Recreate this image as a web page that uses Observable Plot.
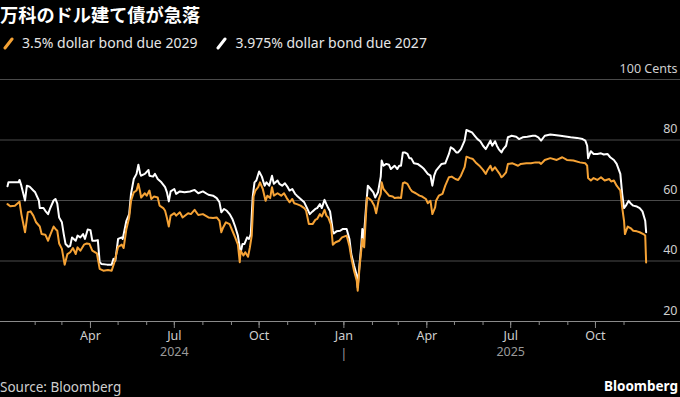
<!DOCTYPE html>
<html>
<head>
<meta charset="utf-8">
<script src="https://cdn.jsdelivr.net/npm/d3@7"></script>
<script src="https://cdn.jsdelivr.net/npm/@observablehq/plot@0.6"></script>
<style>
  html, body { margin:0; padding:0; background:#000; width:680px; height:397px; overflow:hidden; font-family:"Noto Sans", sans-serif; }
  #title { position:absolute; left:0; top:1px; font-family:"Noto Sans CJK JP", sans-serif; font-weight:bold; font-size:18.2px; color:#fff; white-space:nowrap; }
  #legend { position:absolute; left:0; top:33px; font-size:14px; color:#e6e6e6; white-space:nowrap; display:flex; align-items:center; }
  #legend .item { display:flex; align-items:center; margin-right:16px; }
  #legend svg { margin-right:6px; }
  #chart { position:absolute; left:0; top:56px; }
  #source { position:absolute; left:0; top:378px; font-size:13.5px; color:#cfcfcf; }
  #brand { position:absolute; right:2px; top:377px; font-size:13.5px; font-weight:bold; color:#fff; }
</style>
</head>
<body>
<div id="title"></div>
<div id="legend"></div>
<div id="chart"></div>
<div id="source"></div>
<div id="brand">Bloomberg</div>
<script>
const titleText = "万科のドル建て債が急落";
const seriesNames = ["3.5% dollar bond due 2029", "3.975% dollar bond due 2027"];
const seriesColors = ["#f5a235", "#ffffff"];
const sourceText = "Source: Bloomberg";

// 3.5% dollar bond due 2029 (orange)
const dates2029 = ["2024-01-02","2024-01-05","2024-01-10","2024-01-15","2024-01-17","2024-01-21","2024-01-24","2024-01-27","2024-01-30","2024-02-02","2024-02-06","2024-02-08","2024-02-12","2024-02-15","2024-02-17","2024-02-21","2024-02-23","2024-02-25","2024-02-27","2024-03-01","2024-03-04","2024-03-07","2024-03-10","2024-03-13","2024-03-16","2024-03-18","2024-03-21","2024-03-25","2024-03-28","2024-03-31","2024-04-03","2024-04-08","2024-04-11","2024-04-15","2024-04-20","2024-04-24","2024-04-27","2024-05-01","2024-05-05","2024-05-07","2024-05-10","2024-05-13","2024-05-15","2024-05-18","2024-05-21","2024-05-23","2024-05-25","2024-05-26","2024-05-30","2024-06-01","2024-06-04","2024-06-06","2024-06-09","2024-06-13","2024-06-15","2024-06-19","2024-06-21","2024-06-23","2024-06-25","2024-06-27","2024-07-01","2024-07-03","2024-07-07","2024-07-10","2024-07-16","2024-07-19","2024-07-23","2024-07-27","2024-08-01","2024-08-07","2024-08-12","2024-08-16","2024-08-19","2024-08-21","2024-08-23","2024-08-26","2024-08-30","2024-09-02","2024-09-05","2024-09-08","2024-09-10","2024-09-11","2024-09-14","2024-09-16","2024-09-19","2024-09-21","2024-09-23","2024-09-25","2024-09-27","2024-09-30","2024-10-02","2024-10-05","2024-10-08","2024-10-10","2024-10-13","2024-10-15","2024-10-17","2024-10-21","2024-10-25","2024-10-28","2024-10-31","2024-11-03","2024-11-06","2024-11-08","2024-11-11","2024-11-15","2024-11-19","2024-11-21","2024-11-24","2024-11-28","2024-12-01","2024-12-03","2024-12-06","2024-12-08","2024-12-11","2024-12-13","2024-12-15","2024-12-18","2024-12-20","2024-12-23","2024-12-27","2024-12-30","2025-01-04","2025-01-07","2025-01-09","2025-01-12","2025-01-15","2025-01-16","2025-01-18","2025-01-20","2025-01-21","2025-01-23","2025-01-26","2025-01-29","2025-01-31","2025-02-03","2025-02-05","2025-02-08","2025-02-10","2025-02-11","2025-02-13","2025-02-16","2025-02-19","2025-02-23","2025-02-25","2025-03-01","2025-03-04","2025-03-06","2025-03-08","2025-03-11","2025-03-14","2025-03-16","2025-03-20","2025-03-24","2025-03-27","2025-03-31","2025-04-02","2025-04-05","2025-04-07","2025-04-10","2025-04-11","2025-04-14","2025-04-18","2025-04-21","2025-04-25","2025-04-28","2025-05-02","2025-05-05","2025-05-08","2025-05-12","2025-05-14","2025-05-18","2025-05-21","2025-05-24","2025-05-28","2025-06-01","2025-06-04","2025-06-06","2025-06-09","2025-06-11","2025-06-14","2025-06-16","2025-06-19","2025-06-21","2025-06-23","2025-06-26","2025-06-28","2025-07-03","2025-07-09","2025-07-12","2025-07-18","2025-07-23","2025-07-28","2025-08-01","2025-08-03","2025-08-07","2025-08-13","2025-08-20","2025-08-26","2025-08-31","2025-09-07","2025-09-14","2025-09-20","2025-09-22","2025-09-23","2025-09-26","2025-09-29","2025-10-03","2025-10-07","2025-10-11","2025-10-16","2025-10-18","2025-10-21","2025-10-24","2025-10-28","2025-10-30","2025-11-01","2025-11-02","2025-11-05","2025-11-08","2025-11-11","2025-11-15","2025-11-18","2025-11-22","2025-11-24","2025-11-25"];
const price2029 = [58.8,58.1,58.3,59.6,55.5,49.5,56.1,56.4,55.0,52.8,51.4,48.9,48.7,46.7,48.4,51.4,50.6,50.0,45.8,44.0,38.8,42.3,42.9,44.3,42.3,44.5,43.4,45.4,45.8,45.6,43.4,42.5,37.4,36.8,37.0,36.8,39.6,44.7,45.4,44.3,50.6,54.4,59.9,62.7,63.3,65.5,62.7,61.0,62.4,61.6,63.3,60.5,61.3,61.0,58.3,57.5,56.6,54.2,51.4,55.0,55.8,55.0,56.1,54.4,55.8,55.5,56.9,55.2,55.5,54.4,54.2,54.4,53.3,49.5,51.1,52.8,52.2,50.0,47.8,45.4,39.6,43.4,41.8,42.9,41.4,44.5,48.4,61.3,63.3,64.4,66.0,63.8,59.9,61.6,60.8,64.4,61.6,62.4,61.6,62.4,60.8,59.4,60.5,59.1,58.8,58.3,57.5,56.6,52.2,52.2,53.6,53.9,55.5,54.7,56.9,55.0,54.4,52.0,45.4,46.2,46.7,47.8,48.4,45.0,41.2,36.8,33.5,30.2,37.9,44.0,47.3,44.5,61.0,60.5,59.9,58.3,55.8,60.5,62.2,66.0,63.8,62.7,61.6,61.3,60.8,61.0,60.8,65.7,66.0,65.5,63.8,63.0,62.4,61.6,61.3,60.5,59.1,59.9,55.5,57.7,59.9,61.6,62.2,64.9,67.7,67.9,67.1,66.8,68.2,71.0,74.5,74.0,73.7,72.6,71.5,70.1,68.8,70.1,71.5,69.9,71.0,70.1,68.8,67.7,68.2,69.3,72.1,72.3,71.5,72.1,72.3,72.3,72.6,72.6,72.1,73.4,74.0,73.4,74.3,73.4,73.2,72.6,72.3,71.5,67.4,66.6,67.4,66.8,67.7,66.6,67.1,66.3,66.6,64.9,63.3,57.7,53.3,48.9,51.4,50.9,50.0,49.8,49.5,48.9,48.4,39.5];

// 3.975% dollar bond due 2027 (white)
const dates2027 = ["2024-01-02","2024-01-03","2024-01-14","2024-01-15","2024-01-17","2024-01-21","2024-01-23","2024-01-26","2024-01-30","2024-02-01","2024-02-05","2024-02-06","2024-02-10","2024-02-12","2024-02-15","2024-02-17","2024-02-21","2024-02-23","2024-02-25","2024-02-27","2024-03-01","2024-03-03","2024-03-05","2024-03-08","2024-03-10","2024-03-12","2024-03-16","2024-03-18","2024-03-21","2024-03-24","2024-03-26","2024-03-29","2024-04-01","2024-04-03","2024-04-06","2024-04-09","2024-04-11","2024-04-13","2024-04-19","2024-04-24","2024-04-26","2024-04-28","2024-05-01","2024-05-05","2024-05-06","2024-05-10","2024-05-13","2024-05-15","2024-05-18","2024-05-21","2024-05-23","2024-05-25","2024-05-26","2024-05-30","2024-06-03","2024-06-04","2024-06-08","2024-06-10","2024-06-13","2024-06-17","2024-06-21","2024-06-23","2024-06-25","2024-06-27","2024-07-01","2024-07-03","2024-07-07","2024-07-12","2024-07-18","2024-07-23","2024-07-27","2024-08-01","2024-08-07","2024-08-12","2024-08-16","2024-08-19","2024-08-21","2024-08-24","2024-08-27","2024-08-30","2024-09-02","2024-09-05","2024-09-08","2024-09-10","2024-09-11","2024-09-13","2024-09-15","2024-09-18","2024-09-20","2024-09-22","2024-09-24","2024-09-26","2024-09-28","2024-10-01","2024-10-04","2024-10-07","2024-10-09","2024-10-12","2024-10-15","2024-10-17","2024-10-21","2024-10-23","2024-10-26","2024-10-29","2024-11-01","2024-11-03","2024-11-06","2024-11-09","2024-11-11","2024-11-15","2024-11-19","2024-11-22","2024-11-25","2024-11-28","2024-12-01","2024-12-03","2024-12-06","2024-12-08","2024-12-11","2024-12-13","2024-12-15","2024-12-17","2024-12-20","2024-12-21","2024-12-24","2024-12-28","2024-12-31","2025-01-04","2025-01-07","2025-01-09","2025-01-12","2025-01-15","2025-01-16","2025-01-18","2025-01-20","2025-01-21","2025-01-22","2025-01-25","2025-01-27","2025-01-30","2025-02-02","2025-02-04","2025-02-07","2025-02-10","2025-02-11","2025-02-13","2025-02-16","2025-02-19","2025-02-21","2025-02-25","2025-02-28","2025-03-02","2025-03-04","2025-03-06","2025-03-08","2025-03-11","2025-03-13","2025-03-15","2025-03-18","2025-03-22","2025-03-26","2025-03-29","2025-04-02","2025-04-05","2025-04-07","2025-04-09","2025-04-11","2025-04-17","2025-04-21","2025-04-25","2025-04-27","2025-04-30","2025-05-03","2025-05-05","2025-05-08","2025-05-12","2025-05-14","2025-05-17","2025-05-20","2025-05-23","2025-05-26","2025-05-29","2025-06-01","2025-06-04","2025-06-06","2025-06-09","2025-06-11","2025-06-14","2025-06-16","2025-06-18","2025-06-21","2025-06-23","2025-06-26","2025-06-28","2025-07-02","2025-07-07","2025-07-10","2025-07-14","2025-07-19","2025-07-25","2025-07-28","2025-07-31","2025-08-03","2025-08-07","2025-08-13","2025-08-24","2025-09-04","2025-09-11","2025-09-17","2025-09-20","2025-09-22","2025-09-23","2025-09-26","2025-09-29","2025-10-03","2025-10-07","2025-10-10","2025-10-14","2025-10-17","2025-10-21","2025-10-24","2025-10-28","2025-10-30","2025-11-01","2025-11-03","2025-11-06","2025-11-08","2025-11-11","2025-11-15","2025-11-18","2025-11-21","2025-11-24","2025-11-25"];
const price2027 = [64.7,66.0,66.0,66.8,64.9,60.0,64.9,64.6,63.3,62.7,60.0,57.5,57.5,56.6,55.5,57.2,60.0,60.5,59.0,54.4,52.8,48.9,45.6,44.7,45.0,47.8,46.7,48.4,47.8,48.9,47.3,50.4,50.2,46.7,46.7,46.9,39.6,39.0,38.8,38.8,40.7,40.1,47.3,47.8,47.3,53.3,55.5,62.2,67.1,68.8,71.8,68.8,68.2,68.8,70.1,68.2,67.9,68.8,67.1,66.0,64.4,62.7,59.7,63.0,63.8,62.2,63.0,62.7,63.0,63.5,62.4,63.0,61.9,61.6,60.8,59.4,56.1,57.2,56.6,55.5,53.9,51.4,48.4,44.5,42.9,45.6,45.6,47.8,47.3,48.9,61.0,66.0,66.6,69.6,67.9,64.9,66.0,64.9,68.2,65.5,66.6,65.5,64.9,65.7,64.4,63.3,63.8,62.2,61.6,60.5,59.4,57.5,55.5,56.4,57.2,57.5,58.8,57.5,60.2,58.8,57.5,56.4,50.0,49.1,49.8,50.0,50.6,50.6,47.3,42.3,38.5,35.2,31.3,39.0,45.6,50.6,45.0,57.7,64.9,63.8,62.7,61.0,62.7,67.9,73.2,71.5,72.1,71.8,70.4,71.5,70.4,71.5,71.5,75.9,75.9,75.4,74.0,74.0,72.3,72.1,71.2,70.4,68.8,68.2,64.9,68.2,69.9,72.1,72.3,75.4,77.6,77.0,75.9,75.9,77.0,79.8,83.3,82.9,82.5,81.4,80.3,79.6,78.1,77.0,78.1,79.8,78.1,79.6,78.1,77.0,75.9,77.0,78.1,80.9,81.4,81.1,80.3,80.9,81.1,81.4,81.4,80.9,79.8,81.4,81.8,81.4,80.9,80.7,80.3,79.8,78.1,74.0,76.3,75.4,75.4,75.6,75.2,75.4,74.3,73.4,72.1,68.8,62.2,57.5,58.3,59.9,59.1,58.3,58.0,57.5,56.4,53.3,49.5];

// Axis values and labels
const yTicks = [20, 40, 60, 80, 100];
const yTickLabels = ["20", "40", "60", "80", "100 Cents"];
const majorTickDates = ["2024-04-01","2024-07-01","2024-10-01","2025-01-01","2025-04-01","2025-07-01","2025-10-01"];
const minorTickRange = ["2024-02-01", "2025-12-01"];
const yearLabelDates = ["2024-07-01", "2025-07-01"];
const yearLabels = ["2024", "2025"];
const yearDividerDate = "2025-01-01";
const xDomain = ["2023-12-25T09:07:00Z", "2026-01-01T06:43:00Z"];

document.getElementById("title").textContent = titleText;
document.getElementById("source").textContent = sourceText;

const legend = document.getElementById("legend");
seriesNames.forEach((name, i) => {
  const item = document.createElement("div");
  item.className = "item";
  item.innerHTML = `<svg width="14" height="14" style="margin-left:2px"><line x1="3" y1="12" x2="10" y2="3" stroke="${seriesColors[i]}" stroke-width="3" stroke-linecap="round"/></svg><span>${name}</span>`;
  legend.appendChild(item);
});

const data2029 = dates2029.map((d, i) => ({date: new Date(d), value: price2029[i]}));
const data2027 = dates2027.map((d, i) => ({date: new Date(d), value: price2027[i]}));
const minorTicks = d3.utcMonth.range(new Date(minorTickRange[0]), new Date(minorTickRange[1]));
const majorTicks = majorTickDates.map(d => new Date(d));
const yearTicks = yearLabelDates.map(d => new Date(d));

const chart = Plot.plot({
  width: 680,
  height: 310,
  marginTop: 23,
  marginBottom: 45,
  marginLeft: 0,
  marginRight: 0,
  style: {background: "transparent", color: "#cfcfcf", fontFamily: "'Noto Sans', sans-serif", fontSize: "12.5px"},
  x: {type: "utc", domain: xDomain.map(d => new Date(d))},
  y: {domain: [20, 100], axis: null},
  marks: [
    Plot.ruleY(yTicks.filter(v => v > 20), {stroke: "#4a4a4a", strokeWidth: 1}),
    Plot.ruleY([20], {stroke: "#8a8a8a", strokeWidth: 1}),
    Plot.axisX(minorTicks, {tickSize: 4, tickFormat: () => "", stroke: "#8a8a8a"}),
    Plot.axisX(majorTicks, {tickSize: 7, tickPadding: 3, tickFormat: "%b", stroke: "#8a8a8a", fill: "#cfcfcf", fontSize: 12.5}),
    Plot.axisX(yearTicks, {tickSize: 0, tickPadding: 26, tickFormat: (d, i) => yearLabels[i], fill: "#9a9a9a", fontSize: 12.5}),
    Plot.axisX([new Date(yearDividerDate)], {tickSize: 0, tickPadding: 27, tickFormat: () => "|", fill: "#9a9a9a", fontSize: 13}),
    Plot.text(yTicks, {y: d => d, text: (d, i) => yTickLabels[i], frameAnchor: "right", textAnchor: "end", dx: -3, dy: -11, fill: "#cfcfcf", fontSize: 12.5}),
    Plot.line(data2027, {x: "date", y: "value", stroke: seriesColors[1], strokeWidth: 2}),
    Plot.line(data2029, {x: "date", y: "value", stroke: seriesColors[0], strokeWidth: 2})
  ]
});
document.getElementById("chart").appendChild(chart);
</script>
</body>
</html>
